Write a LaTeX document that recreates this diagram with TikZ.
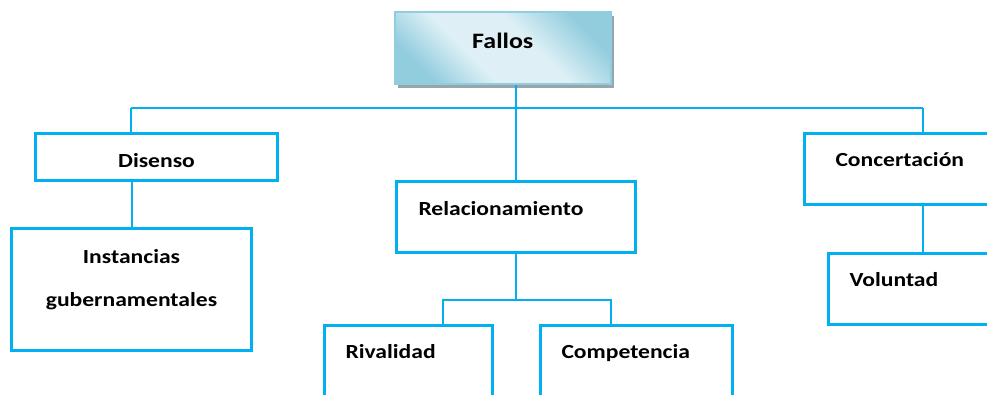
\documentclass[tikz,border=0pt]{standalone}
\usepackage{fontspec}
\setmainfont[FakeStretch=1.18]{Carlito}
\usetikzlibrary{shadows}
\definecolor{linecyan}{RGB}{0,176,240}
\definecolor{falloslight}{RGB}{222,240,246}
\definecolor{fallosdark}{RGB}{146,205,222}
\definecolor{fallosedge}{RGB}{145,205,222}
\definecolor{shadowgray}{RGB}{150,166,170}
\pgfdeclareverticalshading{fallos_shade}{100bp}{color(0bp)=(fallosdark); color(25bp)=(fallosdark); color(40bp)=(falloslight); color(58bp)=(falloslight); color(75bp)=(fallosdark); color(100bp)=(fallosdark)}

\begin{document}
\begin{tikzpicture}[x=1pt,y=-1pt,
  main_node/.style={rectangle,draw=linecyan,line width=3pt,fill=white,anchor=north west,inner ysep=0pt,font=\fontsize{20}{24}\selectfont\bfseries},
  top_node/.style={rectangle,draw=fallosedge,line width=1.5pt,anchor=north west,minimum width=216pt,inner ysep=0pt,
    shading=fallos_shade,shading angle=-45,
    drop shadow={shadow xshift=3pt,shadow yshift=-4pt,fill=shadowgray,opacity=1},font=\fontsize{22}{26}\selectfont\bfseries},
  link/.style={draw=linecyan,line width=2pt}]

  \useasboundingbox (0,0) rectangle (987,394);
  \clip (0,0) rectangle (987,394);

  \node[top_node,text height=37pt,text depth=35pt] (1) at (394,11) {Fallos};
  \node[main_node,text width=198pt,align=center,inner xsep=22pt,text height=34pt,text depth=13pt] (2) at (34,132) {Disenso};
  \node[main_node,text width=200pt,align=center,inner xsep=20pt,text height=35pt,text depth=87pt] (3) at (10,227) {Instancias\\[19pt]gubernamentales};
  \node[main_node,text width=195pt,align=left,inner xsep=22pt,text height=34pt,text depth=37pt] (4) at (395,180) {Relacionamiento};
  \node[main_node,text width=126pt,align=left,inner xsep=21pt,text height=33pt,text depth=100pt] (5) at (323,324) {Rivalidad};
  \node[main_node,text width=150pt,align=left,inner xsep=21pt,text height=33pt,text depth=100pt] (6) at (539,324) {Competencia};
  \node[main_node,text width=168pt,align=left,inner xsep=31pt,text height=33pt,text depth=38pt] (7) at (803,132) {Concertación};
  \node[main_node,text width=158pt,align=left,inner xsep=21pt,text height=33pt,text depth=38pt] (8) at (827,252) {Voluntad};

  \coordinate (b1) at (131,108);
  \coordinate (b2) at (923,108);
  \coordinate (c1) at (443,300);
  \coordinate (c2) at (611,300);

  \draw[link] (b1) -- (b2);
  \draw[link] (b1) -- (b1 |- 2.north);
  \draw[link] (b2) -- (b2 |- 7.north);
  \draw[link] (1.south -| 4.north) -- (4.north);
  \draw[link] (3.north) -- (3.north |- 2.south);
  \draw[link] (7.south -| b2) -- (b2 |- 8.north);
  \draw[link] (4.south) -- (4.south |- c1);
  \draw[link] (5.north -| c1) |- (c2) -- (6.north -| c2);
\end{tikzpicture}
\end{document}
